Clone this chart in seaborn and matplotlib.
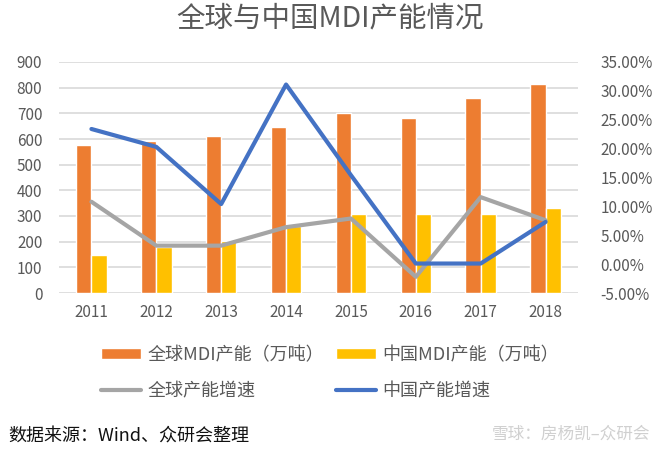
import numpy as np
import pandas as pd
import matplotlib
matplotlib.use("Agg")
import matplotlib.pyplot as plt
import seaborn as sns
from matplotlib.patches import Patch
from matplotlib.lines import Line2D
from matplotlib.ticker import FuncFormatter, MultipleLocator

# 数据
years = ["2011", "2012", "2013", "2014", "2015", "2016", "2017", "2018"]
global_cap = [575, 592, 610, 645, 700, 682, 760, 813]
china_cap = [150, 180, 202, 262, 306, 306, 306, 332]
global_growth = [0.108, 0.032, 0.032, 0.064, 0.079, -0.022, 0.116, 0.076]
china_growth = [0.234, 0.203, 0.104, 0.311, 0.154, 0.001, 0.001, 0.073]

bar_labels = ["全球MDI产能（万吨）", "中国MDI产能（万吨）"]
line_labels = ["全球产能增速", "中国产能增速"]

c_orange = "#ED7D31"
c_yellow = "#FFC000"
c_gray = "#A5A5A5"
c_blue = "#4472C4"
c_text = "#595959"

sns.set_theme(style="white")
plt.rcParams["font.family"] = ["Noto Sans CJK SC", "DejaVu Sans"]

df_bars = pd.DataFrame({
    "year": years * 2,
    "value": global_cap + china_cap,
    "series": [bar_labels[0]] * len(years) + [bar_labels[1]] * len(years),
})

fig = plt.figure(figsize=(6.6, 4.54), dpi=100)
ax = fig.add_axes([59 / 660, 1 - 293 / 454, (578 - 59) / 660, (293 - 62) / 454])

sns.barplot(data=df_bars, x="year", y="value", hue="series",
            palette=[c_orange, c_yellow], width=0.47, ax=ax,
            legend=False, saturation=1)
ax.set_ylim(0, 900)
ax.set_xlim(-0.5, len(years) - 0.5)
ax.yaxis.set_major_locator(MultipleLocator(100))
ax.grid(axis="y", color="#D9D9D9", linewidth=1.2)
ax.set_axisbelow(True)
ax.set_xlabel("")
ax.set_ylabel("")
for s in ax.spines.values():
    s.set_visible(False)
ax.tick_params(axis="y", length=0, pad=12, labelsize=11, labelcolor=c_text)
ax.tick_params(axis="x", length=0, pad=8, labelsize=11, labelcolor=c_text)

# 右轴：增速
ax2 = ax.twinx()
xpos = np.arange(len(years))
sns.lineplot(x=xpos, y=global_growth, color=c_gray, linewidth=3, ax=ax2)
sns.lineplot(x=xpos, y=china_growth, color=c_blue, linewidth=3, ax=ax2)
ax2.set_ylim(-0.05, 0.35)
ax2.yaxis.set_major_locator(MultipleLocator(0.05))
ax2.yaxis.set_major_formatter(FuncFormatter(lambda v, p: f"{v * 100:.2f}%"))
for s in ax2.spines.values():
    s.set_visible(False)
ax2.tick_params(axis="y", length=0, pad=16, labelsize=11, labelcolor=c_text)
ax2.grid(False)

fig.text(0.5, 1 - 18 / 454, "全球与中国MDI产能情况", ha="center", va="center",
         fontsize=20.5, color=c_text)

# 图例按列填充：左列为全球，右列为中国
handles = [
    Patch(facecolor=c_orange, label=bar_labels[0]),
    Line2D([], [], color=c_gray, linewidth=3, label=line_labels[0]),
    Patch(facecolor=c_yellow, label=bar_labels[1]),
    Line2D([], [], color=c_blue, linewidth=3, label=line_labels[1]),
]
fig.legend(handles=handles, ncol=2, loc="center", bbox_to_anchor=(0.5, 1 - 373 / 454),
           frameon=False, fontsize=13, labelcolor=c_text, handlelength=2.2,
           handleheight=0.55, handletextpad=0.35, columnspacing=0.7, labelspacing=1.0)

fig.text(8 / 660, 1 - 437 / 454, "数据来源：Wind、众研会整理", ha="left", va="center",
         fontsize=13, color="#111111")
fig.text(650 / 660, 1 - 434 / 454, "雪球：房杨凯–众研会", ha="right", va="center",
         fontsize=12, color="#D0D0D0")

fig.savefig("out.png", dpi=100)
